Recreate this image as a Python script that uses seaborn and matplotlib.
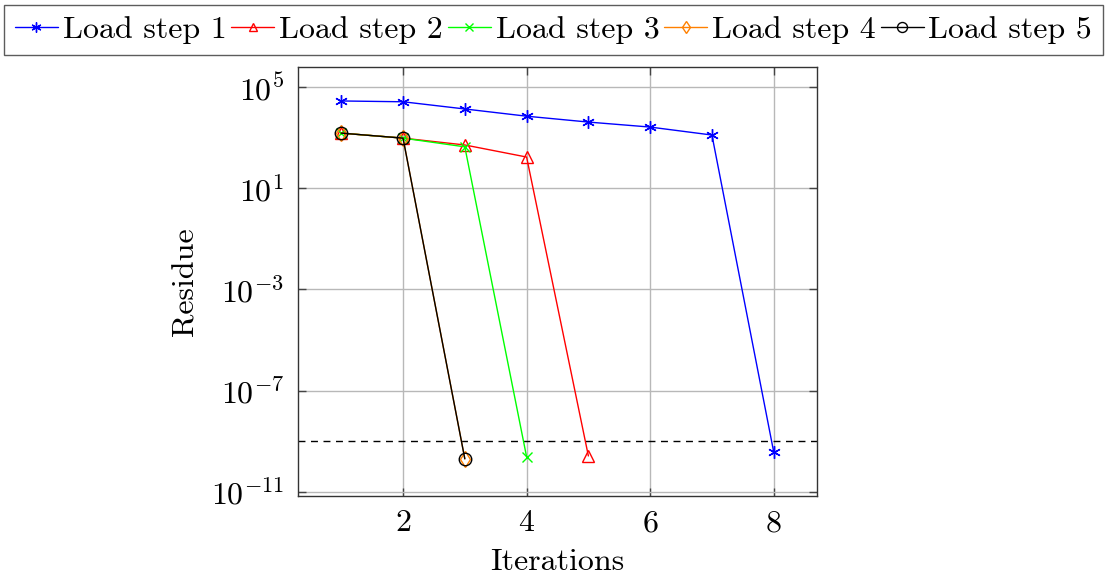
import numpy as np
import pandas as pd
import matplotlib
matplotlib.use("Agg")
import matplotlib.pyplot as plt
import seaborn as sns
from matplotlib.ticker import FixedLocator, LogFormatterMathtext, NullLocator
from matplotlib.lines import Line2D

# ---- data ----
series_names = ["Load step 1", "Load step 2", "Load step 3", "Load step 4", "Load step 5"]
iter_1 = [1, 2, 3, 4, 5, 6, 7, 8]
res_1 = [2.8e4, 2.6e4, 1.35e4, 7.0e3, 4.1e3, 2.6e3, 1.26e3, 3.7e-10]
iter_2 = [1, 2, 3, 4, 5]
res_2 = [1.5e3, 9.5e2, 5.1e2, 1.7e2, 2.6e-10]
iter_3 = [1, 2, 3, 4]
res_3 = [1.5e3, 9.5e2, 4.3e2, 2.4e-10]
iter_4 = [1, 2, 3]
res_4 = [1.5e3, 9.5e2, 2.0e-10]
iter_5 = [1, 2, 3]
res_5 = [1.5e3, 9.5e2, 2.0e-10]
tolerance = 1e-9
x_ticks = [2, 4, 6, 8]
y_ticks = [1e5, 1e1, 1e-3, 1e-7, 1e-11]

frames = []
for name, xs, ys in zip(series_names,
                        [iter_1, iter_2, iter_3, iter_4, iter_5],
                        [res_1, res_2, res_3, res_4, res_5]):
    frames.append(pd.DataFrame({"Iterations": xs, "Residue": ys, "series": name}))
df = pd.concat(frames, ignore_index=True)

sns.set_style("ticks")
plt.rcParams["font.family"] = ["cmr10", "DejaVu Serif"]
plt.rcParams["mathtext.fontset"] = "cm"
plt.rcParams["axes.formatter.use_mathtext"] = True
plt.rcParams["axes.unicode_minus"] = False
for k in ["text.color", "axes.labelcolor", "xtick.labelcolor", "ytick.labelcolor"]:
    plt.rcParams[k] = "black"

FS = 23

fig = plt.figure(figsize=(11.07, 5.79), dpi=100)
ax = fig.add_axes([0.2692, 0.1433, 0.738 - 0.2692, 0.8843 - 0.1433])

styles = {
    "Load step 1": dict(color="#0000ff", marker=(6, 2, 0), ms=9),
    "Load step 2": dict(color="#ff0000", marker="^", ms=8),
    "Load step 3": dict(color="#00ff00", marker="x", ms=7),
    "Load step 4": dict(color="#ff8000", marker="d", ms=8),
    "Load step 5": dict(color="#000000", marker="o", ms=9),
}

for name in series_names:
    st = styles[name]
    sub = df[df["series"] == name]
    sns.lineplot(data=sub, x="Iterations", y="Residue", ax=ax,
                 color=st["color"], marker=st["marker"], markersize=st["ms"],
                 markerfacecolor="none", markeredgecolor=st["color"],
                 markeredgewidth=1.0, linewidth=1.0, estimator=None, sort=False,
                 legend=False)

ax.axhline(tolerance, color="black", linestyle=(0, (5, 4)), linewidth=1.0, zorder=1)

ax.set_yscale("log")
ax.set_xlim(0.3, 8.7)
ax.set_ylim(10 ** -11.17, 10 ** 5.79)
ax.xaxis.set_major_locator(FixedLocator(x_ticks))
ax.yaxis.set_major_locator(FixedLocator(y_ticks))
ax.yaxis.set_major_formatter(LogFormatterMathtext())
ax.yaxis.set_minor_locator(NullLocator())
ax.xaxis.set_minor_locator(NullLocator())

ax.grid(True, color="#b8b8b8", linewidth=1.0)
ax.set_axisbelow(True)
ax.tick_params(direction="in", length=6, width=1.0, top=True, right=True,
               labelsize=FS, color="#444444", labelcolor="black", pad=10)
for s in ax.spines.values():
    s.set_color("#333333")
    s.set_linewidth(1.0)

ax.set_xlabel("Iterations", fontsize=FS, labelpad=8, color="black")
ax.set_ylabel("Residue", fontsize=FS, labelpad=8, color="black")

handles = []
for name in series_names:
    st = styles[name]
    handles.append(Line2D([], [], color=st["color"], marker=st["marker"],
                          markersize=st["ms"] * 0.8, markerfacecolor="none",
                          markeredgecolor=st["color"], linewidth=1.0))
leg = fig.legend(handles, series_names, loc="upper center", bbox_to_anchor=(0.5, 0.992),
                 ncol=5, fontsize=FS, frameon=True, fancybox=False,
                 handlelength=1.35, handletextpad=0.15, columnspacing=0.15,
                 borderpad=0.35, borderaxespad=0.0, labelcolor="black")
leg.get_frame().set_edgecolor("#333333")
leg.get_frame().set_linewidth(1.0)

fig.savefig("out.png", dpi=100)
